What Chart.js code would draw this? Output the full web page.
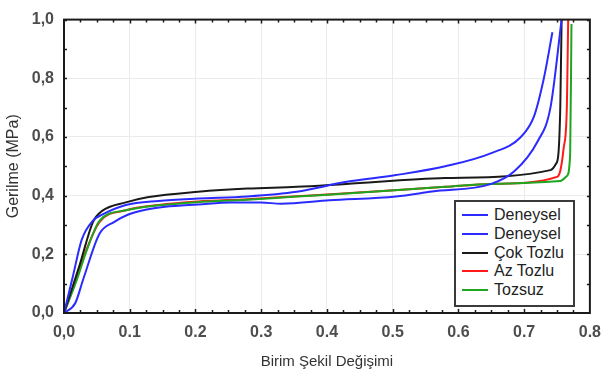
<!DOCTYPE html>
<html>
<head>
<meta charset="utf-8">
<script src="https://cdn.jsdelivr.net/npm/chart.js@4"></script>
<style>
    body { margin: 0; background: #fff; }
    #wrap { position: relative; width: 611px; height: 376px; }
    #legend {
        position: absolute; left: 454px; top: 200px; width: 117px; height: 99px;
        border: 2px solid #3a3a3a; background: #fff; padding-top: 4px; box-sizing: content-box;
        font-family: 'Liberation Sans', Arial, sans-serif; font-size: 16px; color: #222;
    }
    #legend .row { height: 18.7px; display: flex; align-items: center; }
    #legend .swatch { width: 26px; height: 2px; margin-left: 6px; margin-right: 6px; }
</style>
</head>
<body>
<div id="wrap">
    <canvas id="chart" width="611" height="376"></canvas>
    <div id="legend"></div>
</div>
<script>
const xTickLabels = ['0,0', '0.1', '0.2', '0.3', '0.4', '0.5', '0.6', '0.7', '0.8'];
const yTickLabels = ['0,0', '0,2', '0,4', '0,6', '0,8', '1,0'];

const seriesNames = ['Deneysel', 'Deneysel', 'Çok Tozlu', 'Az Tozlu', 'Tozsuz'];

// Deneysel (ilk eğri, 0.743'te biter)
const den1X = [0, 0.013, 0.027, 0.044, 0.058, 0.094, 0.144, 0.204, 0.279, 0.354, 0.43, 0.505, 0.58, 0.65, 0.695, 0.715, 0.73, 0.743];
const den1Y = [0, 0.12, 0.25, 0.315, 0.335, 0.368, 0.382, 0.39, 0.397, 0.413, 0.447, 0.47, 0.50, 0.545, 0.60, 0.67, 0.80, 0.957];

// Deneysel (ikinci eğri)
const den2X = [0, 0.017, 0.03, 0.054, 0.076, 0.097, 0.124, 0.154, 0.204, 0.254, 0.30, 0.33, 0.404, 0.505, 0.56, 0.65, 0.685, 0.72, 0.74, 0.757];
const den2Y = [0, 0.033, 0.12, 0.27, 0.31, 0.335, 0.352, 0.362, 0.37, 0.377, 0.377, 0.372, 0.384, 0.397, 0.414, 0.44, 0.483, 0.583, 0.70, 1.0];

const cokX = [0, 0.024, 0.044, 0.058, 0.094, 0.129, 0.204, 0.279, 0.354, 0.429, 0.58, 0.74, 0.748, 0.752, 0.755, 0.757];
const cokY = [0, 0.165, 0.31, 0.348, 0.377, 0.395, 0.413, 0.424, 0.43, 0.44, 0.46, 0.487, 0.507, 0.54, 0.705, 1.0];

const azX = [0, 0.019, 0.034, 0.054, 0.094, 0.144, 0.204, 0.279, 0.354, 0.43, 0.58, 0.65, 0.75, 0.755, 0.76, 0.765, 0.767];
const azY = [0, 0.115, 0.215, 0.31, 0.35, 0.368, 0.38, 0.388, 0.398, 0.408, 0.43, 0.44, 0.464, 0.485, 0.56, 0.705, 1.0];

const tozsuzX = [0, 0.019, 0.034, 0.054, 0.094, 0.144, 0.204, 0.279, 0.354, 0.43, 0.58, 0.65, 0.755, 0.765, 0.77, 0.772];
const tozsuzY = [0, 0.11, 0.21, 0.314, 0.35, 0.367, 0.378, 0.386, 0.397, 0.407, 0.43, 0.44, 0.45, 0.467, 0.54, 0.985];

const colors = ['#2b2bff', '#2b2bff', '#1a1a1a', '#ff1a1a', '#1fa51f'];

function pts(xs, ys) {
    return xs.map((x, i) => ({ x, y: ys[i] }));
}

const seriesData = [pts(den1X, den1Y), pts(den2X, den2Y), pts(cokX, cokY), pts(azX, azY), pts(tozsuzX, tozsuzY)];

const frame = {
    id: 'frame',
    afterDatasetsDraw(chart) {
        const { ctx, chartArea: a, scales } = chart;
        ctx.save();
        ctx.strokeStyle = '#1a1a1a';
        ctx.lineWidth = 1.5;
        ctx.beginPath();
        for (let v = 0.025; v < 0.8; v += 0.025) {
            const px = Math.round(scales.x.getPixelForValue(v)) + 0.5;
            const len = Math.abs((v * 10) - Math.round(v * 10)) < 0.001 ? 4 : 3;
            ctx.moveTo(px, a.top); ctx.lineTo(px, a.top + len);
            ctx.moveTo(px, a.bottom); ctx.lineTo(px, a.bottom - len);
        }
        for (let v = 0.1; v < 1; v += 0.1) {
            const py = Math.round(scales.y.getPixelForValue(v)) + 0.5;
            ctx.moveTo(a.left, py); ctx.lineTo(a.left + 3, py);
            ctx.moveTo(a.right, py); ctx.lineTo(a.right - 3, py);
        }
        ctx.stroke();
        ctx.lineWidth = 2;
        ctx.strokeRect(a.left, a.top, a.right - a.left, a.bottom - a.top);
        ctx.restore();
    }
};

const chart = new Chart(document.getElementById('chart'), {
    type: 'scatter',
    data: {
        datasets: seriesNames.map((name, i) => ({
            label: name,
            data: seriesData[i],
            showLine: true,
            borderColor: colors[i],
            backgroundColor: colors[i],
            borderWidth: 2,
            pointRadius: 0,
            cubicInterpolationMode: 'monotone',
            order: i === 3 ? 1 : 0
        }))
    },
    options: {
        responsive: false,
        animation: false,
        layout: { padding: { top: 11, right: 14, left: 0, bottom: 0 } },
        plugins: {
            legend: { display: false },
            tooltip: { enabled: false }
        },
        scales: {
            x: {
                type: 'linear',
                min: 0,
                max: 0.8,
                afterFit: s => { s.height = 63; },
                grid: { color: '#ebebeb', lineWidth: 1, drawTicks: false },
                border: { display: false },
                ticks: {
                    stepSize: 0.1,
                    padding: 10,
                    color: '#4d4d4d',
                    font: { family: 'Liberation Sans', size: 16, weight: 'bold' },
                    callback: (v, i) => xTickLabels[i]
                },
                title: {
                    display: true,
                    text: 'Birim Şekil Değişimi',
                    color: '#333',
                    padding: { top: 0, bottom: 5 },
                    font: { family: 'Liberation Sans', size: 15 }
                }
            },
            y: {
                type: 'linear',
                min: 0,
                max: 1,
                afterFit: s => { s.width = 64; },
                grid: { color: '#ebebeb', lineWidth: 1, drawTicks: false },
                border: { display: false },
                ticks: {
                    stepSize: 0.2,
                    padding: 10,
                    color: '#4d4d4d',
                    font: { family: 'Liberation Sans', size: 16, weight: 'bold' },
                    callback: (v, i) => yTickLabels[i]
                },
                title: {
                    display: true,
                    text: 'Gerilme (MPa)',
                    color: '#333',
                    padding: { top: 4, bottom: 0 },
                    font: { family: 'Liberation Sans', size: 16 }
                }
            }
        }
    },
    plugins: [frame]
});

const legendEl = document.getElementById('legend');
chart.data.datasets.forEach(ds => {
    const row = document.createElement('div');
    row.className = 'row';
    const sw = document.createElement('span');
    sw.className = 'swatch';
    sw.style.background = ds.borderColor;
    const label = document.createElement('span');
    label.textContent = ds.label;
    row.appendChild(sw);
    row.appendChild(label);
    legendEl.appendChild(row);
});
</script>
</body>
</html>
